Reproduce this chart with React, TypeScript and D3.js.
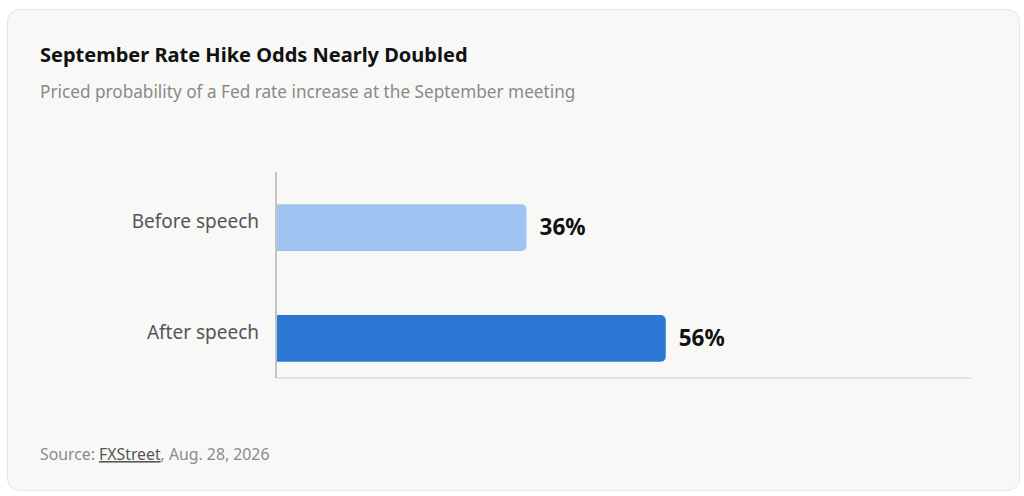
import React, { useRef, useEffect } from 'react';
import * as d3 from 'd3';

const categories = ['Before speech', 'After speech'];
const values = [36, 56];
const valueLabels = ['36%', '56%'];
const barColors = ['#a0c4f1', '#2b78d4'];

const title = 'September Rate Hike Odds Nearly Doubled';
const subtitle = 'Priced probability of a Fed rate increase at the September meeting';

const FONT = "'Noto Sans', 'Open Sans', sans-serif";

const Chart: React.FC = () => {
  const svgRef = useRef<SVGSVGElement>(null);

  useEffect(() => {
    if (!svgRef.current) return;
    const width = 1024,
      height = 496;
    const svg = d3.select(svgRef.current).attr('width', width).attr('height', height);
    svg.selectAll('*').remove();

    // card
    svg
      .append('rect')
      .attr('x', 7.5)
      .attr('y', 9.5)
      .attr('width', 1012)
      .attr('height', 481)
      .attr('rx', 12)
      .attr('fill', '#f8f8f6')
      .attr('stroke', '#e6e6e3');

    svg
      .append('text')
      .attr('x', 40)
      .attr('y', 62)
      .attr('font-family', FONT)
      .attr('font-size', 20)
      .attr('font-weight', 700)
      .attr('fill', '#111')
      .text(title);

    svg
      .append('text')
      .attr('x', 40)
      .attr('y', 98)
      .attr('font-family', FONT)
      .attr('font-size', 17.2)
      .attr('fill', '#8a8a8a')
      .text(subtitle);

    const plot = { left: 276, right: 972, top: 172, bottom: 378 };

    const x = d3.scaleLinear().domain([0, 100]).range([plot.left, plot.right]);
    const y = d3
      .scaleBand<string>()
      .domain(categories)
      .range([plot.top + 8, plot.bottom + 8])
      .paddingInner(0.58)
      .paddingOuter(0.22);

    // axis lines
    svg
      .append('line')
      .attr('x1', plot.left)
      .attr('x2', plot.right)
      .attr('y1', plot.bottom)
      .attr('y2', plot.bottom)
      .attr('stroke', '#dcdcd8')
      .attr('stroke-width', 1.5);
    svg
      .append('line')
      .attr('x1', plot.left)
      .attr('x2', plot.left)
      .attr('y1', plot.top)
      .attr('y2', plot.bottom)
      .attr('stroke', '#c4c4c0')
      .attr('stroke-width', 2);

    const rows = categories.map((c, i) => ({ c, v: values[i], label: valueLabels[i], color: barColors[i] }));

    // bars with rounded right corners
    svg
      .selectAll('path.bar')
      .data(rows)
      .enter()
      .append('path')
      .attr('class', 'bar')
      .attr('fill', (d) => d.color)
      .attr('d', (d) => {
        const x0 = x(0) + 1,
          x1 = x(d.v),
          y0 = y(d.c)!,
          h = y.bandwidth(),
          r = 5;
        const p = d3.path();
        p.moveTo(x0, y0);
        p.lineTo(x1 - r, y0);
        p.arcTo(x1, y0, x1, y0 + r, r);
        p.lineTo(x1, y0 + h - r);
        p.arcTo(x1, y0 + h, x1 - r, y0 + h, r);
        p.lineTo(x0, y0 + h);
        p.closePath();
        return p.toString();
      });

    svg
      .selectAll('text.cat')
      .data(rows)
      .enter()
      .append('text')
      .attr('class', 'cat')
      .attr('x', plot.left - 17)
      .attr('y', (d) => y(d.c)! + y.bandwidth() / 2 - 6)
      .attr('dy', '0.35em')
      .attr('text-anchor', 'end')
      .attr('font-family', FONT)
      .attr('font-size', 19)
      .attr('fill', '#555')
      .text((d) => d.c);

    svg
      .selectAll('text.val')
      .data(rows)
      .enter()
      .append('text')
      .attr('class', 'val')
      .attr('x', (d) => x(d.v) + 13)
      .attr('y', (d) => y(d.c)! + y.bandwidth() / 2)
      .attr('dy', '0.35em')
      .attr('font-family', FONT)
      .attr('font-size', 22.5)
      .attr('font-weight', 700)
      .attr('fill', '#111')
      .text((d) => d.label);

    // source
    const src = svg
      .append('text')
      .attr('x', 40)
      .attr('y', 460)
      .attr('font-family', FONT)
      .attr('font-size', 15.8)
      .attr('fill', '#8a8a8a');
    src.append('tspan').text('Source: ');
    src.append('tspan').attr('fill', '#555').attr('text-decoration', 'underline').text('FXStreet');
    src.append('tspan').text(', Aug. 28, 2026');
  }, []);

  return <svg ref={svgRef} style={{ display: 'block' }} />;
};

export default function App() {
  return (
    <div style={{ position: 'fixed', left: 0, top: 0, width: 1024, height: 496, background: '#fff' }}>
      <Chart />
    </div>
  );
}
